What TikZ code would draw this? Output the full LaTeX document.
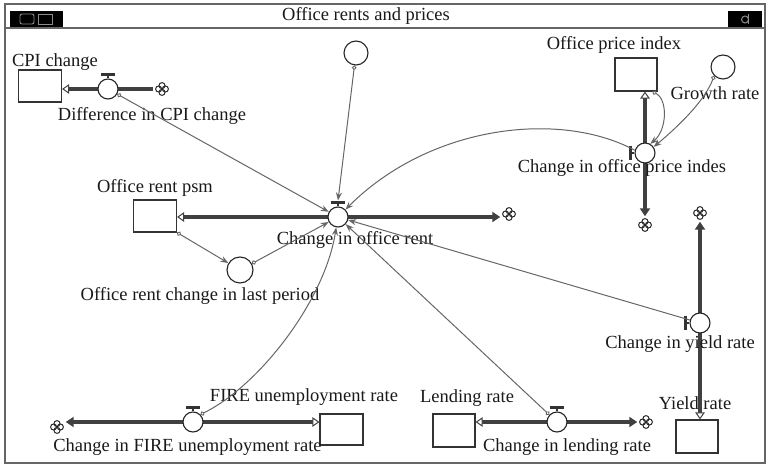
\documentclass[tikz,border=0pt]{standalone}
\usepackage{fontspec}
\setmainfont{Liberation Serif}
\usetikzlibrary{arrows.meta,backgrounds}
\tikzset{
  hollowtip/.tip={Triangle[open, length=7bp, width=9.5bp, line width=1bp, fill=white]},
  filledtip/.tip={Triangle[length=8bp, width=10bp]},
  conntip/.tip={Stealth[length=8bp, width=6bp]},
  srctip/.tip={Circle[open, length=4.5bp, width=4.5bp, line width=0.9bp]}
}
\begin{document}
\begin{tikzpicture}[x=1bp, y=-1bp,
  font=\fontsize{18.5bp}{22bp}\selectfont,
  stockbox/.style={draw=black!80, line width=1.1bp, fill=white, minimum width=43bp, minimum height=32bp, inner sep=0},
  valvenode/.style={circle, draw=black!85, line width=1.1bp, fill=white, minimum size=20bp, inner sep=0},
  auxnode/.style={circle, draw=black!85, line width=1.1bp, fill=white, minimum size=24bp, inner sep=0},
  sinknode/.style={circle, minimum size=17bp, inner sep=0, fill=white,
    path picture={
      \foreach \dx/\dy in {3.4/0, -3.4/0, 0/3.4, 0/-3.4}
        \draw[black!85, line width=1bp] ([xshift=\dx bp, yshift=\dy bp]path picture bounding box.center) circle[radius=3bp];
    }},
  lbl/.style={inner sep=0, text=black!90},
  pipe/.style={draw=black!75, line width=3.2bp},
  conn/.style={draw=black!60, line width=1bp, -conntip},
  srcconn/.style={draw=black!60, line width=1bp, srctip-conntip},
  handlebar/.style={draw=black!80, line width=2.4bp},
  framepen/.style={draw=black!60, line width=1.3bp}
]
\useasboundingbox (0,0) rectangle (768,468);

% window frame and title bar
\draw[framepen] (5,4) rectangle (765,463);
\draw[framepen] (5,28) -- (765,28);
\fill[black] (10,11) rectangle (63,27);
\draw[black!45, line width=0.9bp, rounded corners=2bp] (20,14) rectangle (34,24);
\draw[black!45, line width=0.9bp] (38,14) rectangle (52,24);
\fill[black] (728,11) rectangle (762,27);
\draw[black!45, line width=1bp] (745,19.5) circle[radius=3.5bp];
\draw[black!45, line width=1bp] (748.5,14) -- (748.5,24);
\node[lbl] (title) at (366,16) {Office rents and prices};

% stocks
\node[stockbox] (cpibox) at (40,86) {};
\node[stockbox] (rentbox) at (155,216) {};
\node[stockbox, minimum width=42bp, minimum height=33bp] (pricebox) at (636,74.5) {};
\node[stockbox, minimum width=42bp, minimum height=33bp] (yieldbox) at (697,436.5) {};
\node[stockbox, minimum width=43bp, minimum height=31bp] (firebox) at (341.5,429.5) {};
\node[stockbox, minimum width=42bp, minimum height=33bp] (lendbox) at (454,430.5) {};

% clouds
\node[sinknode] (cpicloud) at (162,89) {};
\node[sinknode] (rentcloud) at (509,214) {};
\node[sinknode] (pricecloud) at (645,225) {};
\node[sinknode] (yieldcloud) at (700,213) {};
\node[sinknode] (firecloud) at (57,427) {};
\node[sinknode] (lendcloud) at (646,422) {};

% valves
\node[valvenode] (cpiv) at (108,89) {};
\node[valvenode] (rentv) at (338,217) {};
\node[valvenode] (pricev) at (645,153) {};
\node[valvenode] (yieldv) at (700,323) {};
\node[valvenode] (firev) at (193,422) {};
\node[valvenode] (lendv) at (557,422) {};

% handles
\draw[handlebar] (cpiv.north) -- ++(0,-4) ++(-7,0) -- ++(14,0);
\draw[handlebar] (rentv.north) -- ++(0,-4) ++(-7,0) -- ++(14,0);
\draw[handlebar] (firev.north) -- ++(0,-4) ++(-7,0) -- ++(14,0);
\draw[handlebar] (lendv.north) -- ++(0,-4) ++(-7,0) -- ++(14,0);
\draw[handlebar] (pricev.west) -- ++(-4,0) ++(0,-7) -- ++(0,14);
\draw[handlebar] (yieldv.west) -- ++(-4,0) ++(0,-7) -- ++(0,14);

% auxiliaries
\node[auxnode] (topc) at (356,53) {};
\node[auxnode, minimum size=26bp] (auxc) at (240,270) {};
\node[auxnode] (growc) at (723,67) {};

% pipes
\begin{scope}[on background layer]
\draw[pipe, -hollowtip] (cpicloud.west) -- (cpibox.east |- cpiv);
\draw[pipe, hollowtip-filledtip] (rentbox.east |- rentv) -- (rentcloud.west |- rentv);
\draw[pipe, hollowtip-filledtip] (pricebox.south -| pricev) -- (pricecloud.north -| pricev);
\draw[pipe, filledtip-hollowtip] (yieldcloud.south -| yieldv) -- (yieldbox.north -| yieldv);
\draw[pipe, filledtip-hollowtip] (firecloud.east |- firev) -- (firebox.west |- firev);
\draw[pipe, hollowtip-filledtip] (lendbox.east |- lendv) -- (lendcloud.west |- lendv);
\end{scope}

% labels
\node[lbl] (lcpi) at (55,62) {CPI change};
\node[lbl] (lcpiv) at (152,116) {Difference in CPI change};
\node[lbl] (lrent) at (155,188) {Office rent psm};
\node[lbl] (lrentv) at (355,240) {Change in office rent};
\node[lbl] (laux) at (200,296) {Office rent change in last period};
\node[lbl] (lprice) at (614,45) {Office price index};
\node[lbl] (lgrow) at (715,93) {Growth rate};
\node[lbl] (lpricev) at (622,168) {Change in office price indes};
\node[lbl] (lyieldv) at (680,344) {Change in yield rate};
\node[lbl] (lyield) at (695,403) {Yield rate};
\node[lbl] (lfire) at (304,397) {FIRE unemployment rate};
\node[lbl] (lfirev) at (187.5,447) {Change in FIRE unemployment rate};
\node[lbl] (llend) at (467,398) {Lending rate};
\node[lbl] (llendv) at (567,447) {Change in lending rate};

% connectors
\draw[srcconn] (cpiv) -- (rentv);
\draw[srcconn] (topc) -- ([yshift=6bp]rentv.north);
\draw[srcconn] (rentbox.south east) -- (auxc);
\draw[srcconn] (auxc) -- (rentv);
\draw[srcconn] (lendv) -- (rentv);
\draw[conn] (yieldv) -- (rentv);
\draw[conn] (pricev.165) .. controls (560,110) and (430,125) .. (rentv.north east);
\draw[srcconn] (firev.north east) .. controls (260,385) and (325,300) .. (rentv.-100);
\draw[srcconn] ([xshift=-5bp]pricebox.south east) .. controls (668,100) and (667,130) .. (pricev.60);
\draw[srcconn] (growc.south west) .. controls (705,100) and (680,125) .. (pricev.35);
\end{tikzpicture}
\end{document}
